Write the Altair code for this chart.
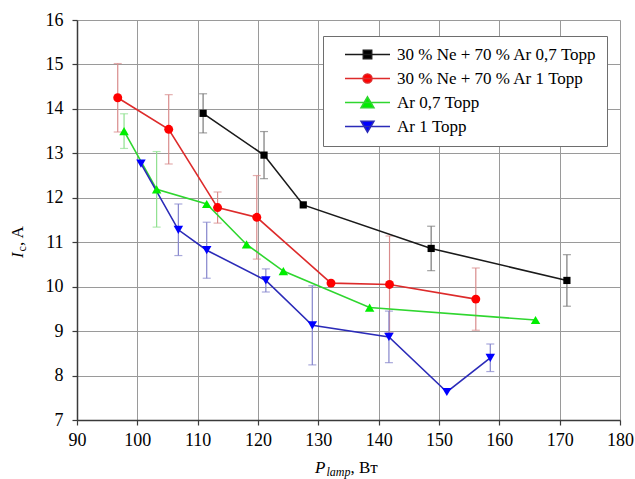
import altair as alt
import pandas as pd

# ---------------- data ----------------
names = ["30 % Ne + 70 % Ar 0,7 Торр", "30 % Ne + 70 % Ar 1 Торр", "Ar 0,7 Торр", "Ar 1 Торр"]

x_ne07 = [110.9, 121.0, 127.5, 148.7, 171.2]
y_ne07 = [13.90, 12.96, 11.84, 10.86, 10.14]
e_ne07 = [0.44, 0.53, 0.0, 0.50, 0.58]

x_ne1 = [96.75, 105.2, 113.3, 119.8, 132.1, 141.8, 156.1]
y_ne1 = [14.25, 13.54, 11.78, 11.56, 10.08, 10.05, 9.72]
e_ne1 = [0.77, 0.78, 0.35, 0.94, 0.0, 1.09, 0.70]

x_ar07 = [97.8, 103.2, 111.5, 118.1, 124.2, 138.5, 166.0]
y_ar07 = [13.50, 12.19, 11.86, 10.95, 10.35, 9.53, 9.25]
e_ar07 = [0.39, 0.85, 0.0, 0.0, 0.0, 0.0, 0.0]

x_ar1 = [100.6, 106.8, 111.5, 121.3, 129.0, 141.7, 151.3, 158.5]
y_ar1 = [12.77, 11.28, 10.82, 10.14, 9.13, 8.87, 7.63, 8.40]
e_ar1 = [0.0, 0.58, 0.63, 0.26, 0.89, 0.58, 0.0, 0.31]

x_ticks = list(range(90, 181, 5))
y_ticks = [7 + 0.5 * i for i in range(19)]

# ---------------- styles ----------------
shapes = ["square", "circle", "triangle-up", "triangle-down"]
marker_sizes = [52, 80, 90, 90]
marker_colors = ["#000000", "#ff0000", "#00ee00", "#0000ff"]
line_colors = ["#1a1a1a", "#dd2b2b", "#2fd62f", "#2b2bb8"]
err_colors = ["#7a7a7a", "#d98c8c", "#8ee08e", "#8585cc"]

legend_paths = [
    "M-3.75,0H3.75M-0.7,-0.7H0.7V0.7H-0.7Z",
    "M-3.75,0H3.75M-0.75,0A0.75,0.75 0 1,0 0.75,0A0.75,0.75 0 1,0 -0.75,0Z",
    "M-3.75,0H3.75M0,-0.95L1.08,0.88L-1.08,0.88Z",
    "M-3.75,0H3.75M0,0.95L1.08,-0.88L-1.08,-0.88Z",
]

SERIF = "Liberation Serif"

xs = alt.Scale(domain=[90, 180], nice=False, zero=False)
ys = alt.Scale(domain=[7, 16], nice=False, zero=False)

x_axis = alt.Axis(
    values=x_ticks, title=None, labelExpr="datum.value % 10 === 0 ? datum.label : ''",
    labelFont=SERIF, labelFontSize=18, labelColor="#000", labelFlush=False, labelOverlap=False,
    labelPadding=6, domainColor="#3a3a3a", domainWidth=1.5, tickColor="#3a3a3a", tickWidth=1.2,
    tickSize={"condition": {"test": "datum.value % 10 === 0", "value": 5}, "value": 3},
    grid=True, gridWidth=1,
    gridColor={"condition": {"test": "datum.value % 10 === 0", "value": "#9a9a9a"}, "value": "#d2d2d2"},
    gridDash={"condition": {"test": "datum.value % 10 === 0", "value": []}, "value": [5, 4]},
)
y_axis = alt.Axis(
    values=y_ticks, title=None, labelExpr="datum.value % 1 === 0 ? datum.label : ''",
    labelFont=SERIF, labelFontSize=18, labelColor="#000", labelFlush=False, labelOverlap=False,
    labelPadding=9, domainColor="#3a3a3a", domainWidth=1.5, tickColor="#3a3a3a", tickWidth=1.2,
    tickSize={"condition": {"test": "datum.value % 1 === 0", "value": 5}, "value": 3},
    grid=True, gridWidth=1,
    gridColor={"condition": {"test": "datum.value % 1 === 0", "value": "#9a9a9a"}, "value": "#d2d2d2"},
    gridDash={"condition": {"test": "datum.value % 1 === 0", "value": []}, "value": [5, 4]},
)

series = [
    (x_ne07, y_ne07, e_ne07),
    (x_ne1, y_ne1, e_ne1),
    (x_ar07, y_ar07, e_ar07),
    (x_ar1, y_ar1, e_ar1),
]

# axis carrier layer (grid + axes)
axes_df = pd.DataFrame({"x": [90, 180], "y": [7, 16]})
base = alt.Chart(axes_df).mark_point(opacity=0).encode(
    x=alt.X("x:Q", scale=xs, axis=x_axis),
    y=alt.Y("y:Q", scale=ys, axis=y_axis),
)

err_layers, line_layers, point_layers = [], [], []
for i, (xv, yv, ev) in enumerate(series):
    df = pd.DataFrame({"x": xv, "y": yv, "e": ev})
    df["lo"] = df["y"] - df["e"]
    df["hi"] = df["y"] + df["e"]
    edf = df[df["e"] > 0]
    X = alt.X("x:Q", scale=xs)
    err_layers.append(alt.Chart(edf).mark_rule(color=err_colors[i], strokeWidth=1.2).encode(
        x=X, y=alt.Y("lo:Q", scale=ys), y2="hi:Q"))
    err_layers.append(alt.Chart(edf).mark_tick(color=err_colors[i], orient="horizontal", size=8, thickness=1.2).encode(
        x=X, y=alt.Y("lo:Q", scale=ys)))
    err_layers.append(alt.Chart(edf).mark_tick(color=err_colors[i], orient="horizontal", size=8, thickness=1.2).encode(
        x=X, y=alt.Y("hi:Q", scale=ys)))
    line_layers.append(alt.Chart(df).mark_line(color=line_colors[i], strokeWidth=1.6).encode(
        x=X, y=alt.Y("y:Q", scale=ys), order="x:Q"))
    point_layers.append(alt.Chart(df).mark_point(
        filled=True, shape=shapes[i], size=marker_sizes[i], color=marker_colors[i], opacity=1).encode(
        x=X, y=alt.Y("y:Q", scale=ys)))

leg = alt.Legend(
    title=None, orient="none", legendX=246, legendY=16, direction="vertical",
    strokeColor="#6e6e6e", fillColor="#ffffff", padding=10, rowPadding=6, cornerRadius=0,
    symbolSize=144, symbolStrokeWidth=1.5, symbolOffset=26, labelOffset=21,
    labelFont=SERIF, labelFontSize=17, labelColor="#000", labelLimit=400,
    labelExpr="datum.label + '\u2003'",
)
legend_layer = alt.Chart(pd.DataFrame({"series": names})).transform_filter("false").mark_point(
    filled=True, size=144, strokeWidth=1.5, opacity=1).encode(
    shape=alt.Shape("series:N", scale=alt.Scale(domain=names, range=legend_paths), legend=leg),
    fill=alt.Fill("series:N", scale=alt.Scale(domain=names, range=marker_colors), legend=leg),
    stroke=alt.Stroke("series:N", scale=alt.Scale(domain=names, range=line_colors), legend=leg),
)

# axis titles (with subscripts) as text pieces
one = pd.DataFrame({"k": [0]})
def txt(text, x, y, size, italic=False, angle=0):
    return alt.Chart(one).mark_text(
        text=text, font=SERIF, fontSize=size, fontStyle="italic" if italic else "normal",
        align="left", baseline="alphabetic", angle=angle, color="#000").encode(
        x=alt.value(x), y=alt.value(y))

titles = [
    txt("P", 238, 453, 17, italic=True),
    txt("lamp", 249.5, 456, 12, italic=True),
    txt(", Вт", 273.5, 453, 17),
    txt("I", -54, 238, 17, italic=True, angle=270),
    txt("c", -51, 231.5, 12, angle=270),
    txt(", A", -54, 226, 17, angle=270),
]

chart = alt.layer(base, *err_layers, *line_layers, *point_layers, legend_layer, *titles).properties(
    width=543, height=400,
    autosize=alt.AutoSizeParams(type="none"),
    padding={"left": 77, "top": 20, "right": 15, "bottom": 59},
).configure_view(stroke=None).configure(background="white", font=SERIF).configure_legend(
    labelFont=SERIF, labelFontSize=17, labelColor="#000")

chart.save("out.html", embed_options={"renderer": "svg", "actions": False})
